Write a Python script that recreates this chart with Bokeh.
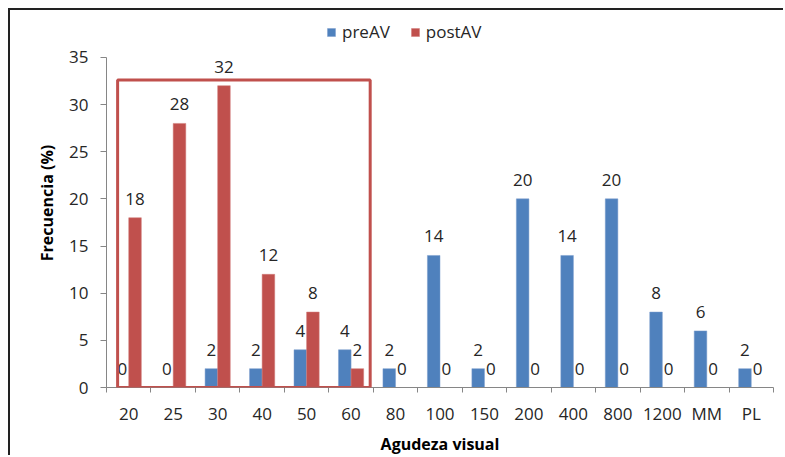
from bokeh.plotting import figure
from bokeh.models import Range1d, FixedTicker, ColumnDataSource, BoxAnnotation, Legend, LegendItem
from bokeh.embed import file_html
from bokeh.resources import INLINE
from bokeh.core.properties import value

categories = ["20", "25", "30", "40", "50", "60", "80", "100", "150", "200", "400", "800", "1200", "MM", "PL"]
pre_av = [0, 0, 2, 2, 4, 4, 2, 14, 2, 20, 14, 20, 8, 6, 2]
post_av = [18, 28, 32, 12, 8, 2, 0, 0, 0, 0, 0, 0, 0, 0, 0]
y_ticks = [0, 5, 10, 15, 20, 25, 30, 35]
highlight_count = 6  # categories inside the red box

FONT = "Open Sans"
FS = "17px"
BLUE = "#4f81bd"
RED = "#c0504d"
TXT = "#262626"

n = len(categories)
centers = [i + 0.5 for i in range(n)]
bw = 0.283
pre_x = [c - bw / 2 for c in centers]
post_x = [c + bw / 2 for c in centers]

# frame extends above the axis top (35) so the legend can sit inside it
axis_px = 331.0          # pixel height of 0..35
extra_px = 39.0          # space above 35 for the legend
y_max = y_ticks[-1]
y_end = y_max * (axis_px + extra_px) / axis_px

src_pre = ColumnDataSource(dict(x=pre_x, top=pre_av, label=[str(v) for v in pre_av]))
src_post = ColumnDataSource(dict(x=post_x, top=post_av, label=[str(v) for v in post_av]))

p = figure(width=775, height=447, x_range=Range1d(0, n), y_range=Range1d(0, y_end),
           output_backend="svg", toolbar_location=None,
           min_border_left=96, min_border_right=12, min_border_top=8, min_border_bottom=60)
p.outline_line_color = None
p.grid.visible = False

r_pre = p.vbar(x="x", top="top", width=bw, bottom=0, source=src_pre, fill_color=BLUE, line_color="#7a9ccc", line_width=0.5)
r_post = p.vbar(x="x", top="top", width=bw, bottom=0, source=src_post, fill_color=RED, line_color="#d07a78", line_width=0.5)

for src in (src_pre, src_post):
    p.text(x="x", y="top", text="label", source=src, text_align="center", text_baseline="alphabetic",
           y_offset=-19, text_font=value(FONT), text_font_size=FS, text_color=TXT)

# y axis
ya = p.yaxis[0]
ya.ticker = FixedTicker(ticks=y_ticks)
ya.bounds = (0, y_max)
ya.axis_line_color = "#868686"
ya.major_tick_line_color = "#868686"
ya.major_tick_out = 6
ya.major_tick_in = 0
ya.minor_tick_line_color = None
ya.major_label_standoff = 12
ya.major_label_text_font = FONT
ya.major_label_text_font_size = FS
ya.major_label_text_color = TXT
ya.axis_label = "Frecuencia (%)"
ya.axis_label_text_font = FONT
ya.axis_label_text_font_style = "bold"
ya.axis_label_text_font_size = "16px"
ya.axis_label_text_color = "#000000"
ya.axis_label_standoff = 8

# x axis
xa = p.xaxis[0]
xa.ticker = FixedTicker(ticks=centers, minor_ticks=[float(i) for i in range(n + 1)])
xa.major_label_overrides = {c: cat for c, cat in zip(centers, categories)}
xa.axis_line_color = "#868686"
xa.major_tick_line_color = None
xa.major_tick_out = 0
xa.major_tick_in = 0
xa.minor_tick_line_color = "#868686"
xa.minor_tick_out = 5
xa.minor_tick_in = 0
xa.major_label_standoff = 9
xa.major_label_text_font = FONT
xa.major_label_text_font_size = FS
xa.major_label_text_color = TXT
xa.axis_label = "Agudeza visual"
xa.axis_label_text_font = FONT
xa.axis_label_text_font_style = "bold"
xa.axis_label_text_font_size = "16px"
xa.axis_label_text_color = "#000000"
xa.axis_label_standoff = 5

# highlight box around first categories
box = BoxAnnotation(left=0.25, right=highlight_count - 0.07, bottom=0, top=max(post_av[:highlight_count]) + 0.6,
                    fill_alpha=0, line_color=RED, line_alpha=1.0, line_width=3)
p.add_layout(box)

legend = Legend(items=[LegendItem(label="preAV", renderers=[r_pre]), LegendItem(label="postAV", renderers=[r_post])],
                orientation="horizontal", location=(220, 344), glyph_width=10, glyph_height=10,
                label_text_font=FONT, label_text_font_size=FS, label_text_color=TXT,
                label_standoff=6, spacing=20, padding=0, margin=0,
                border_line_color=None, background_fill_alpha=0)
p.add_layout(legend, "center")

p.styles = {"margin-left": "8px", "margin-top": "8px",
            "border-left": "2px solid #222222", "border-top": "2px solid #222222"}

open("out.html", "w").write(file_html(p, INLINE))
